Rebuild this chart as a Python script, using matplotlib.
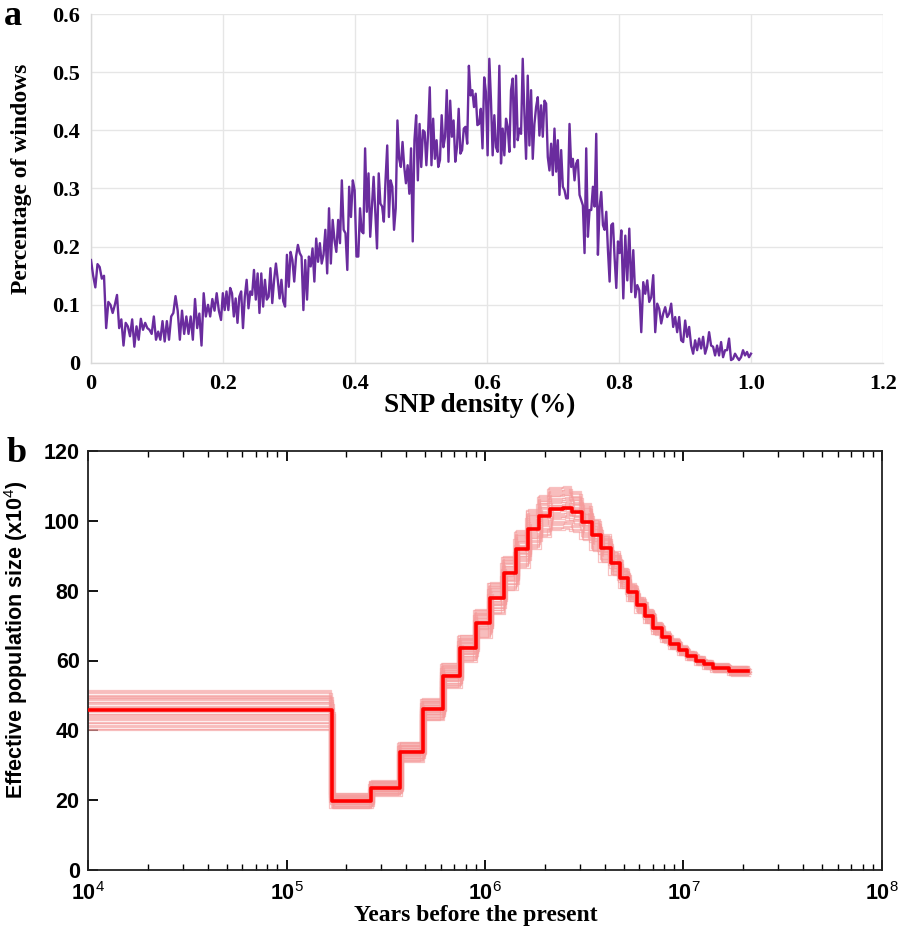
import numpy as np
import matplotlib
matplotlib.use("Agg")
import matplotlib.pyplot as plt
from matplotlib.ticker import FixedLocator, LogLocator, NullFormatter

plt.rcParams["mathtext.fontset"] = "custom"
plt.rcParams["mathtext.rm"] = "Liberation Sans"
plt.rcParams["mathtext.bf"] = "Liberation Sans:bold"

SERIF = "Liberation Serif"
SANS = "Liberation Sans"

# ---- panel a: SNP density distribution in five stretches
SEG_EDGES = [0.0, 0.197, 0.405, 0.6035, 0.8035, 1.0]
pct_seg1 = [0.177, 0.15, 0.13, 0.17, 0.165, 0.145, 0.15, 0.06, 0.105, 0.10, 0.086, 0.10,
            0.117, 0.06, 0.075, 0.03, 0.069, 0.063, 0.046, 0.075, 0.028, 0.063, 0.04, 0.076,
            0.057, 0.069, 0.06, 0.057, 0.05, 0.08, 0.04, 0.054, 0.04, 0.072, 0.037, 0.072,
            0.04, 0.08, 0.086, 0.115, 0.09, 0.04, 0.09, 0.05, 0.08, 0.05, 0.08, 0.04, 0.11,
            0.06, 0.085, 0.03, 0.12, 0.08, 0.10, 0.08, 0.11, 0.09, 0.12, 0.09]
pct_seg2 = [0.074, 0.12, 0.091, 0.123, 0.091, 0.129, 0.12, 0.08, 0.111, 0.069, 0.114, 0.123,
            0.06, 0.114, 0.143, 0.094, 0.123, 0.117, 0.16, 0.109, 0.154, 0.086, 0.154, 0.097,
            0.143, 0.109, 0.114, 0.163, 0.103, 0.143, 0.171, 0.143, 0.111, 0.143, 0.106, 0.097,
            0.186, 0.131, 0.191, 0.177, 0.14, 0.183, 0.203, 0.189, 0.183, 0.091, 0.177, 0.109,
            0.183, 0.166, 0.197, 0.14, 0.214, 0.174, 0.206, 0.171, 0.186, 0.229, 0.154, 0.266,
            0.171, 0.246, 0.211, 0.191, 0.246, 0.206, 0.314, 0.229, 0.223, 0.16, 0.303, 0.251,
            0.314, 0.297, 0.183]
pct_seg3 = [0.183, 0.266, 0.226, 0.223, 0.369, 0.26, 0.326, 0.217, 0.269, 0.32, 0.257, 0.197,
            0.326, 0.274, 0.269, 0.243, 0.314, 0.374, 0.251, 0.314, 0.303, 0.229, 0.266, 0.417,
            0.351, 0.337, 0.38, 0.337, 0.309, 0.34, 0.291, 0.369, 0.209, 0.383, 0.426, 0.314,
            0.411, 0.337, 0.4, 0.397, 0.34, 0.394, 0.474, 0.34, 0.42, 0.351, 0.383, 0.337,
            0.349, 0.426, 0.371, 0.389, 0.469, 0.346, 0.451, 0.389, 0.417, 0.346, 0.371, 0.437,
            0.36, 0.366, 0.403, 0.406, 0.377, 0.511, 0.46, 0.469, 0.44, 0.463, 0.409, 0.411,
            0.437, 0.369, 0.491, 0.466, 0.357]
pct_seg4 = [0.523, 0.451, 0.357, 0.426, 0.371, 0.363, 0.511, 0.343, 0.403, 0.357, 0.42, 0.406,
            0.363, 0.469, 0.489, 0.371, 0.494, 0.383, 0.403, 0.394, 0.523, 0.429, 0.351, 0.494,
            0.374, 0.469, 0.351, 0.411, 0.44, 0.457, 0.391, 0.443, 0.389, 0.451, 0.446, 0.354,
            0.331, 0.377, 0.323, 0.403, 0.329, 0.383, 0.289, 0.366, 0.303, 0.297, 0.283, 0.283,
            0.411, 0.337, 0.351, 0.314, 0.343, 0.349, 0.289, 0.28, 0.271, 0.189, 0.369, 0.217,
            0.263, 0.263, 0.303, 0.269, 0.394, 0.186, 0.269, 0.294, 0.237, 0.229, 0.26, 0.194,
            0.14, 0.237, 0.24, 0.18, 0.129, 0.209, 0.189]
pct_seg5 = [0.228, 0.111, 0.219, 0.142, 0.231, 0.122, 0.194, 0.113, 0.134, 0.125, 0.053, 0.139,
            0.119, 0.142, 0.105, 0.113, 0.151, 0.053, 0.102, 0.093, 0.068, 0.085, 0.096, 0.079,
            0.085, 0.102, 0.062, 0.079, 0.053, 0.079, 0.039, 0.036, 0.073, 0.045, 0.062, 0.03,
            0.016, 0.039, 0.022, 0.042, 0.025, 0.045, 0.016, 0.028, 0.053, 0.03, 0.028, 0.013,
            0.03, 0.013, 0.036, 0.01, 0.022, 0.022, 0.042, 0.005, 0.007, 0.016, 0.01, 0.005,
            0.01, 0.022, 0.013, 0.019, 0.01, 0.016]
PCT_SEGS = [pct_seg1, pct_seg2, pct_seg3, pct_seg4, pct_seg5]

# ---- panel b: PSMC history (step starts in years, Ne in units of 10^4)
STEP_T = [5e3, 1.69e5, 2.67e5, 3.73e5, 4.85e5, 6.12e5, 7.48e5, 8.98e5, 1.06e6, 1.24e6,
          1.44e6, 1.65e6, 1.88e6, 2.12e6, 2.48e6, 2.73e6, 3.07e6, 3.44e6, 3.82e6, 4.31e6,
          4.79e6, 5.27e6, 5.81e6, 6.40e6, 7.05e6, 7.82e6, 8.55e6, 9.53e6, 1.045e7, 1.156e7,
          1.27e7, 1.40e7, 1.70e7, 2.12e7]
NE = [45.7, 19.8, 23.5, 33.8, 46.0, 55.7, 63.5, 70.6, 77.9, 85.0, 91.9, 97.6, 101.4, 103.5,
      103.8, 102.6, 99.7, 95.9, 92.1, 87.8, 83.6, 79.5, 75.9, 72.7, 69.2, 66.7, 64.8, 62.9,
      61.4, 60.0, 58.9, 57.9, 57.1]
# bootstrap envelope half-width per step, and where each replicate sits in it
BOOT_HALF = [6, 2.3, 2.3, 3, 3.3, 3.8, 4, 4.3, 4.8, 5.2, 5.6, 6, 6.3, 6.5, 6.5, 6, 5.5, 4.8,
             4.2, 3.6, 3.1, 2.7, 2.4, 2.1, 1.9, 1.7, 1.6, 1.5, 1.4, 1.4, 1.4, 1.4, 1.5]
BOOT_FRAC = [-0.95, 0.88, -0.62, 0.35, -0.18, 0.71, -0.81, 0.12, 0.54, -0.44, 0.97, -0.27,
             0.05, -0.69, 0.42, 0.83, -0.53, 0.23, -0.08, 0.61, -0.36, 0.92, -0.87, 0.3,
             -0.15, 0.48, -0.74, 0.66, -0.4, 0.18, 0.76, -0.58, 0.02, -0.22, 0.39, -0.9,
             0.57, 0.14, -0.33, 0.7]
BOOT_TSHIFT = [0.02, -0.03, 0.01, -0.01, 0.035, -0.02, 0.0, 0.025, -0.035, 0.015, -0.005,
               0.03, -0.025, 0.01, -0.015, 0.005, 0.02, -0.03, 0.035, -0.01, 0.025, -0.02,
               0.0, 0.03, -0.035, 0.015, -0.005, 0.01, -0.025, 0.02, -0.012, 0.028, -0.022,
               0.008, 0.018, -0.028, 0.004, -0.016, 0.032, -0.008]

fig = plt.figure(figsize=(9.04, 9.31), dpi=100)

# ================= panel a
ax1 = fig.add_axes([91/904, 1-363/931, 792/904, 349/931])
xs, ys = [], []
for i, seg in enumerate(PCT_SEGS):
    last = i == len(PCT_SEGS) - 1
    xs.append(np.linspace(SEG_EDGES[i], SEG_EDGES[i+1], len(seg), endpoint=last))
    ys.append(np.array(seg))
ax1.plot(np.concatenate(xs), np.concatenate(ys), color="#6a2c9e", lw=1.7, zorder=3)
ax1.set_xlim(0, 1.2)
ax1.set_ylim(0, 0.6)
ax1.set_xticks(np.arange(0, 1.21, 0.2))
ax1.set_xticklabels(["0", "0.2", "0.4", "0.6", "0.8", "1.0", "1.2"])
ax1.set_yticks(np.arange(0, 0.61, 0.1))
ax1.set_yticklabels(["0", "0.1", "0.2", "0.3", "0.4", "0.5", "0.6"])
ax1.tick_params(length=0, labelsize=16)
ax1.tick_params(axis="x", pad=8)
ax1.tick_params(axis="y", pad=8)
for lab in ax1.get_xticklabels() + ax1.get_yticklabels():
    lab.set_fontfamily(SERIF); lab.set_fontweight("bold")
ax1.grid(True, color="#e6e6e6", lw=1.0, zorder=0)
for s in ("top", "right"):
    ax1.spines[s].set_visible(False)
for s in ("left", "bottom"):
    ax1.spines[s].set_color("#d9d9d9"); ax1.spines[s].set_linewidth(1.0)
ax1.set_xlabel("SNP density (%)", fontfamily=SERIF, fontweight="bold", fontsize=19.5)
ax1.set_ylabel("Percentage of windows", fontfamily=SERIF, fontweight="bold", fontsize=17)
ax1.xaxis.set_label_coords(0.491, -0.085)
ax1.yaxis.set_label_coords(-0.075, 0.527)

# ================= panel b
ax2 = fig.add_axes([88/904, 1-870/931, 794/904, 419/931])
ax2.set_xscale("log")
for f, sh in zip(BOOT_FRAC, BOOT_TSHIFT):
    bt = [t * (1 + sh) for t in STEP_T]
    bn = [n + f * h for n, h in zip(NE, BOOT_HALF)]
    ax2.plot(bt, bn + [bn[-1]], drawstyle="steps-post", color="#f59c9c", lw=0.9,
             alpha=0.6, zorder=2)
ax2.plot(STEP_T, NE + [NE[-1]], drawstyle="steps-post", color="#ff0000", lw=2.6, zorder=3)
ax2.set_xlim(1e4, 1e8)
ax2.set_ylim(0, 120)
ax2.set_yticks(np.arange(0, 121, 20))
ax2.xaxis.set_major_locator(FixedLocator([1e4, 1e5, 1e6, 1e7, 1e8]))
ax2.set_xticklabels([r"$\mathbf{10}^{%d}$" % e for e in (4, 5, 6, 7, 8)])
ax2.xaxis.set_minor_locator(LogLocator(base=10, subs=np.arange(2, 10), numticks=20))
ax2.xaxis.set_minor_formatter(NullFormatter())
ax2.tick_params(axis="x", which="both", direction="in", top=True, labelsize=15.5, pad=8)
ax2.tick_params(axis="x", which="major", length=7, width=1.3)
ax2.tick_params(axis="x", which="minor", length=4, width=1.0)
ax2.tick_params(axis="y", direction="in", length=7, width=1.3, labelsize=15.5, pad=6)
for lab in ax2.get_yticklabels():
    lab.set_fontfamily(SANS); lab.set_fontweight("bold")
for s in ax2.spines.values():
    s.set_linewidth(1.3); s.set_color("#222222")
ax2.set_xlabel("Years before the present", fontfamily=SERIF, fontweight="bold", fontsize=17)
ax2.set_ylabel(r"Effective population size (x10$^{4}$)", fontfamily=SANS,
               fontweight="bold", fontsize=15.5)
ax2.xaxis.set_label_coords(0.488, -0.083)
ax2.yaxis.set_label_coords(-0.073, 0.549)

fig.text(4/904, 1-25/931, "a", fontfamily=SERIF, fontweight="bold", fontsize=26, va="baseline")
fig.text(7/904, 1-462/931, "b", fontfamily=SERIF, fontweight="bold", fontsize=26, va="baseline")

fig.savefig("out.png", dpi=100)
